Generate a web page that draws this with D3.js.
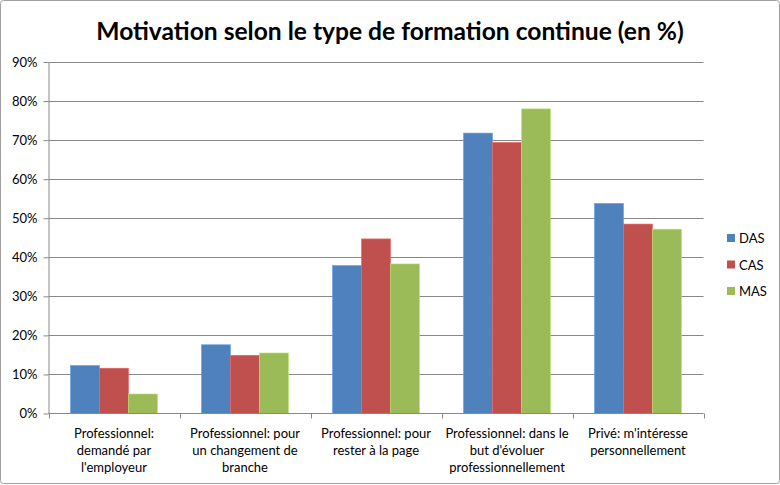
<!DOCTYPE html>
<html><head><meta charset="utf-8">
<script src="https://cdn.jsdelivr.net/npm/d3@7/dist/d3.min.js"></script>
<style>body{margin:0;background:#fff;} svg{display:block;}</style>
</head><body>
<svg id="c" width="780" height="485"></svg>
<script>
const title = "Motivation selon le type de formation continue (en %)";
const categories = [
  ["Professionnel:", "demandé par", "l'employeur"],
  ["Professionnel: pour", "un changement de", "branche"],
  ["Professionnel: pour", "rester à la page"],
  ["Professionnel: dans le", "but d'évoluer", "professionnellement"],
  ["Privé: m'intéresse", "personnellement"]
];
const seriesNames = ["DAS", "CAS", "MAS"];
const DAS = [12.3, 17.6, 37.9, 71.8, 53.8];
const CAS = [11.6, 14.9, 44.7, 69.4, 48.5];
const MAS = [5.0, 15.5, 38.3, 78.0, 47.2];
const yTicks = [0, 10, 20, 30, 40, 50, 60, 70, 80, 90];
const colors = ["#4F81BD", "#C0504D", "#9BBB59"];
const seriesValues = [DAS, CAS, MAS];

const svg = d3.select("#c");
const font = "Lato, 'Open Sans', sans-serif";
const L = 48.5, R = 703.5, T = 62, B = 413.5;

svg.append("rect").attr("x", 0.5).attr("y", 0.5).attr("width", 779).attr("height", 483)
  .attr("fill", "#fff").attr("stroke", "#a0a0a0").attr("stroke-width", 1).attr("rx", 3);

svg.append("text").attr("x", 390).attr("y", 40).attr("text-anchor", "middle")
  .attr("font-family", font).attr("font-weight", "bold").attr("font-size", 24.6)
  .attr("fill", "#000").text(title);

const idx = d3.range(categories.length);
const x = d3.scaleBand().domain(idx).range([L, R]).paddingInner(0).paddingOuter(0);
const y = d3.scaleLinear().domain([0, 90]).range([B, T]);
const xs = d3.scaleBand().domain(d3.range(seriesNames.length))
  .range([0, x.bandwidth()]).paddingInner(0).paddingOuter(0.758);

// gridlines
svg.append("g").selectAll("line").data(yTicks.filter(d => d > 0)).join("line")
  .attr("x1", L).attr("x2", R)
  .attr("y1", d => Math.round(y(d)) + 0.5).attr("y2", d => Math.round(y(d)) + 0.5)
  .attr("stroke", "#888").attr("stroke-width", 1);

// bars
idx.forEach(i => {
  seriesValues.forEach((vals, s) => {
    svg.append("rect")
      .attr("x", x(i) + xs(s)).attr("width", xs.bandwidth())
      .attr("y", y(vals[i])).attr("height", y(0) - y(vals[i]))
      .attr("fill", colors[s])
      .attr("stroke", d3.color(colors[s]).brighter(0.6)).attr("stroke-width", 0.6);
  });
});

// y axis
const yAxis = d3.axisLeft(y).tickValues(yTicks).tickFormat(d => d + "%").tickSize(5).tickSizeOuter(0);
const gy = svg.append("g").attr("transform", `translate(${L},0)`).call(yAxis);
gy.select(".domain").attr("stroke", "#888");
gy.selectAll(".tick line").attr("stroke", "#888");
gy.selectAll(".tick text").attr("font-family", font).attr("font-size", 13).attr("fill", "#000").attr("x", -11);

// x axis
const xEdges = d3.range(categories.length + 1).map(i => L + i * x.step());
const gx = svg.append("g");
gx.append("line").attr("x1", L).attr("x2", R).attr("y1", B).attr("y2", B).attr("stroke", "#888");
gx.selectAll("line.t").data(xEdges).join("line").attr("class", "t")
  .attr("x1", d => Math.round(d) + 0.5).attr("x2", d => Math.round(d) + 0.5)
  .attr("y1", B).attr("y2", B + 5).attr("stroke", "#888");
idx.forEach(i => {
  const t = svg.append("text").attr("text-anchor", "middle")
    .attr("font-family", font).attr("font-size", 13).attr("fill", "#000");
  categories[i].forEach((line, j) => {
    t.append("tspan").attr("x", x(i) + x.bandwidth() / 2).attr("y", 438 + j * 17).text(line);
  });
});

// legend
seriesNames.forEach((n, s) => {
  const cy = 238 + s * 26.5;
  svg.append("rect").attr("x", 727).attr("y", cy - 4).attr("width", 8).attr("height", 8).attr("fill", colors[s]);
  svg.append("text").attr("x", 739).attr("y", cy + 5).attr("font-family", font).attr("font-size", 13)
    .attr("fill", "#000").text(n);
});
</script>
</body></html>
